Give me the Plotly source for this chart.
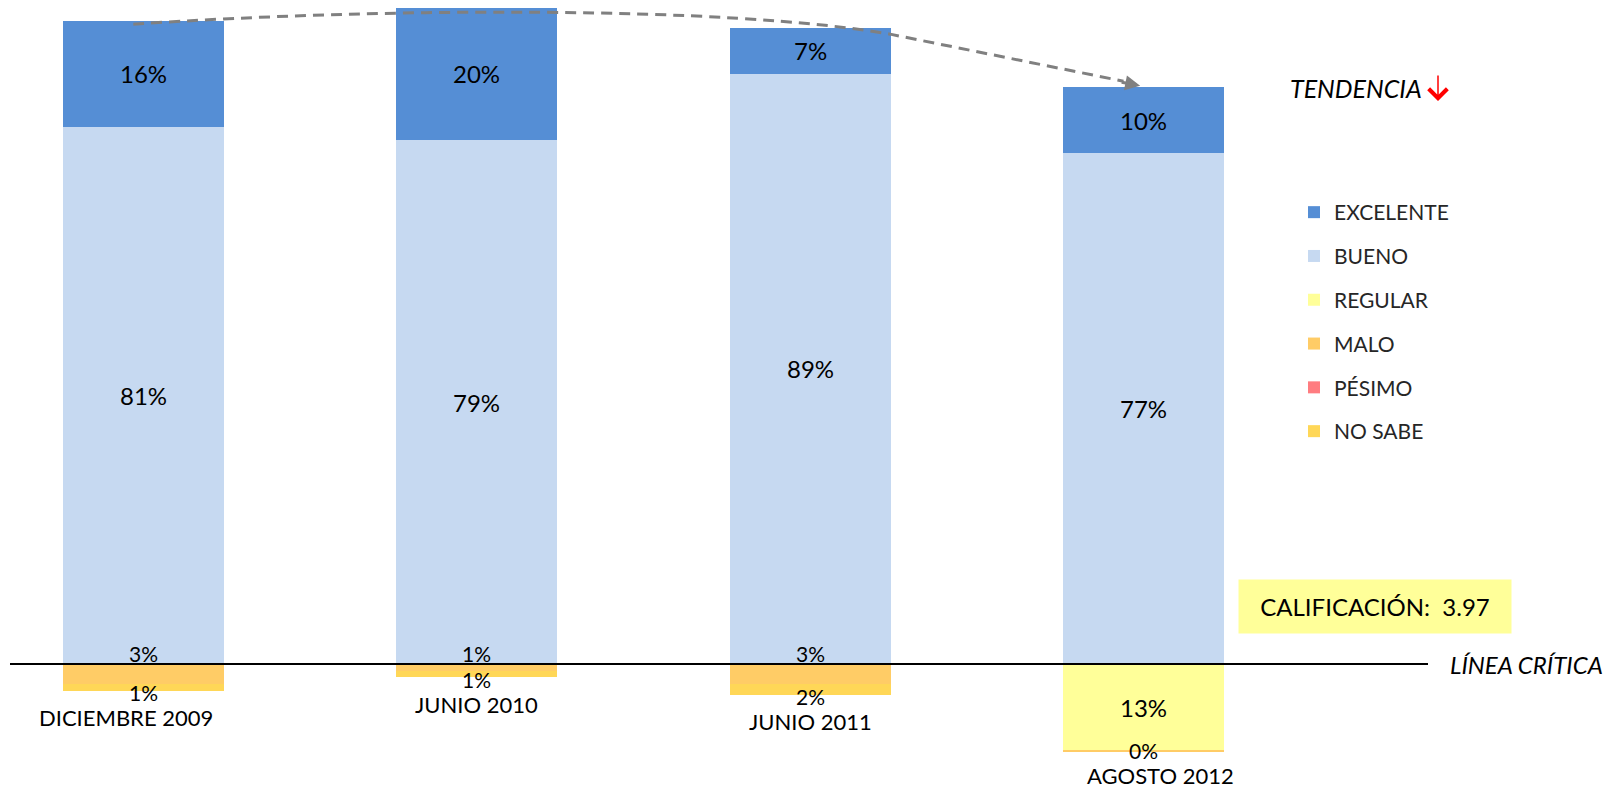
import plotly.graph_objects as go

# ---------------- data ----------------
categories = ["DICIEMBRE 2009", "JUNIO 2010", "JUNIO 2011", "AGOSTO 2012"]
excelente = [16, 20, 7, 10]
bueno = [81, 79, 89, 77]
regular = [0, 0, 0, 13]
malo = [3, 1, 3, 0.3]
pesimo = [0, 0, 0, 0]
no_sabe = [1, 1, 1.6, 0]
calificacion = "3.97"

# ---------------- style ----------------
FONT = "Lato"
colors = {
    "EXCELENTE": "#558ED5",
    "BUENO": "#C6D9F1",
    "REGULAR": "#FFFF99",
    "MALO": "#FFCC66",
    "PÉSIMO": "#FF7C80",
    "NO SABE": "#FFD757",
}
W, H = 1610, 791
BAR_W = 0.483
label_xshift = [-17, 0, 0, 17]

px_per = 6.63
zero_px = 664
bar0_px = 143.3
spacing_px = 333.4

xs = list(range(len(categories)))
pos_series = [("BUENO", bueno), ("EXCELENTE", excelente)]
neg_series = [("REGULAR", regular), ("MALO", malo), ("PÉSIMO", pesimo), ("NO SABE", no_sabe)]
rank = {"EXCELENTE": 1, "BUENO": 2, "REGULAR": 3, "MALO": 4, "PÉSIMO": 5, "NO SABE": 6}

fig = go.Figure()
for name, vals in pos_series:
    fig.add_trace(go.Bar(x=xs, y=vals, name=name, width=BAR_W,
                         marker=dict(color=colors[name], line=dict(width=0)),
                         legendgroup=name, legendrank=rank[name], hoverinfo="skip"))
for name, vals in neg_series:
    fig.add_trace(go.Bar(x=xs, y=[-v for v in vals], name=name, width=BAR_W,
                         marker=dict(color=colors[name], line=dict(width=0)),
                         legendgroup=name, legendrank=rank[name], hoverinfo="skip"))

annotations = []
def pct(v):
    return f"{int(round(v))}%"

# positive labels
for i in xs:
    cum = 0
    for name, vals in pos_series:
        v = vals[i]
        if v > 0:
            annotations.append(dict(x=i, y=cum + v / 2, text=pct(v), showarrow=False,
                                    font=dict(family=FONT, size=24, color="black"),
                                    xref="x", yref="y"))
        cum += v

# negative labels + category labels
CAT_GAP = 27
for i in xs:
    cum = 0
    segs = []
    for name, vals in neg_series:
        v = vals[i]
        if v > 0:
            segs.append((cum, v))
        cum += v
    neg_total = cum
    bottom_px = zero_px + neg_total * px_per
    cat_px = min(bottom_px + CAT_GAP, H - 16)
    delta = (bottom_px + CAT_GAP) - cat_px
    for k, (start, v) in enumerate(segs):
        if v >= 4:
            y, ysh, fs = -(start + v / 2), 0, 24
        elif k == 0:
            y, ysh, fs = -start, 11, 21
        else:
            y, ysh, fs = -(start + v), -2 + delta, 21
        annotations.append(dict(x=i, y=y, yshift=ysh, text=pct(v), showarrow=False,
                                font=dict(family=FONT, size=fs, color="black"),
                                borderpad=0, xref="x", yref="y"))
    annotations.append(dict(x=i, y=-neg_total, yshift=-(CAT_GAP - delta), xshift=label_xshift[i],
                            text=categories[i], showarrow=False, borderpad=0,
                            font=dict(family=FONT, size=22, color="black"),
                            xref="x", yref="y", yanchor="middle"))

pos_totals = [sum(v[i] for _, v in pos_series) for i in xs]

# trend arrow head
annotations.append(dict(x=xs[-1] - 0.01, y=pos_totals[-1] + 0.2, xref="x", yref="y",
                        ax=-20, ay=-4, showarrow=True, arrowhead=2, arrowsize=1,
                        arrowwidth=3, arrowcolor="#808080", standoff=0, text=""))

# side texts
annotations += [
    dict(x=1288 / W, y=1 - 88 / H, xref="paper", yref="paper", xanchor="left", yanchor="middle",
         text="<i>TENDENCIA</i>", showarrow=False, font=dict(family=FONT, size=25, color="black")),
    dict(x=1438 / W, y=1 - 101 / H, xref="paper", yref="paper", ax=0, ay=-27,
         showarrow=True, arrowhead=4, arrowsize=2.4, arrowwidth=1.5, arrowcolor="red",
         standoff=0, text=""),
    dict(x=1375 / W, y=1 - 606 / H, xref="paper", yref="paper", xanchor="center", yanchor="middle",
         text=f"CALIFICACIÓN:  {calificacion}", showarrow=False, width=268, height=49,
         bgcolor="#FFFF99", borderpad=2, font=dict(family=FONT, size=24, color="black")),
    dict(x=1605 / W, y=0, xref="paper", yref="y", xanchor="right", yanchor="middle",
         text="<i>LÍNEA CRÍTICA</i>", showarrow=False, font=dict(family=FONT, size=24, color="black")),
]

shapes = [
    dict(type="line", xref="paper", yref="y", x0=10 / W, x1=1428 / W, y0=0, y1=0,
         line=dict(color="black", width=2)),
    dict(type="path", xref="x", yref="y",
         path=(f"M {xs[0] - 0.03},{pos_totals[0] - 0.5} C 0.7,99 1.75,99.3 2.24,95.0 "
               f"L {xs[-1] - 0.06},{pos_totals[-1] + 0.9}"),
         line=dict(color="#808080", width=3, dash="11px,7px")),
]

fig.update_layout(
    width=W, height=H,
    margin=dict(l=0, r=0, t=0, b=0),
    paper_bgcolor="white", plot_bgcolor="white",
    barmode="relative", bargap=0,
    xaxis=dict(range=[-bar0_px / spacing_px, (W - bar0_px) / spacing_px], visible=False),
    yaxis=dict(range=[-(H - zero_px) / px_per, zero_px / px_per], visible=False),
    showlegend=True,
    legend=dict(x=1294 / W, y=1 - 192 / H, xanchor="left", yanchor="top",
                traceorder="grouped", tracegroupgap=13.5,
                font=dict(family=FONT, size=21, color="#262626"),
                bgcolor="rgba(0,0,0,0)"),
    annotations=annotations,
    shapes=shapes,
)

fig.write_html("out.html")
